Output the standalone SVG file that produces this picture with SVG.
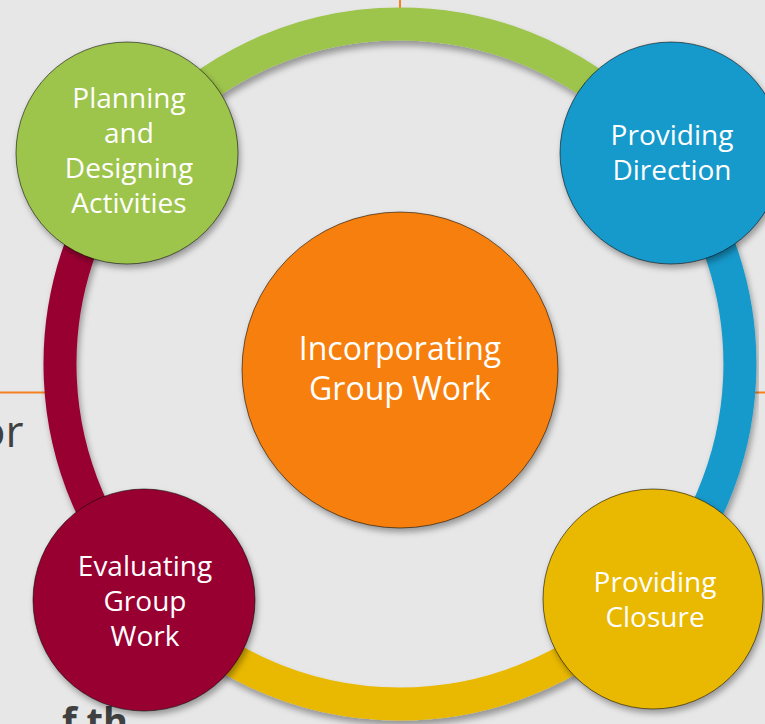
<svg xmlns="http://www.w3.org/2000/svg" width="765" height="724" viewBox="0 0 765 724">
  <defs>
    <filter id="shadow" x="-20%" y="-20%" width="140%" height="140%">
      <feDropShadow dx="2" dy="4" stdDeviation="3" flood-color="#000" flood-opacity="0.35"/>
    </filter>
    <filter id="arcShadow" x="-20%" y="-20%" width="140%" height="140%">
      <feDropShadow dx="2" dy="5" stdDeviation="3" flood-color="#000" flood-opacity="0.35"/>
    </filter>
  </defs>
  <style>
    .arc { fill: none; stroke-width: 33; filter: url(#arcShadow); }
    .node { stroke: #000; stroke-opacity: 0.55; stroke-width: 1; filter: url(#shadow); }
    .label { font-family: "Open Sans", "Liberation Sans", sans-serif; fill: #fff; text-anchor: middle; }
    .bg-text { font-family: "Open Sans", "Liberation Sans", sans-serif; fill: #404040; }
    .rule { stroke: #f58220; stroke-width: 2; }
  </style>

  <!-- slide background -->
  <rect width="765" height="724" fill="#e7e7e7"/>
  <line class="rule" x1="400" y1="0" x2="400" y2="10"/>
  <line class="rule" x1="0" y1="392.5" x2="50" y2="392.5"/>
  <line class="rule" x1="750" y1="392.5" x2="765" y2="392.5"/>
  <text class="bg-text" x="-21" y="447" font-size="44">or</text>
  <text class="bg-text" x="62" y="735" font-size="38" font-weight="bold">f th</text>

  <!-- cycle ring segments -->
  <g id="connectors">
    <path class="arc" stroke="#9dc44c" d="M131,156 A340,340 0 0 1 668.2,155.2"/>
    <path class="arc" stroke="#1699cb" d="M668.2,155.2 A340,340 0 0 1 649.1,595.4"/>
    <path class="arc" stroke="#e9b800" d="M649.1,595.4 A340,340 0 0 1 150,594.4"/>
    <path class="arc" stroke="#990033" d="M150,594.4 A340,340 0 0 1 131,156"/>
  </g>

  <g id="center">
    <circle class="node" cx="400" cy="370" r="158" fill="#f77f0a"/>
    <text class="label" font-size="32"><tspan x="400" y="360">Incorporating</tspan><tspan x="400" y="400">Group Work</tspan></text>
  </g>

  <g id="planning">
    <circle class="node" cx="127" cy="153" r="111" fill="#9dc44c"/>
    <text class="label" font-size="28"><tspan x="129" y="108">Planning</tspan><tspan x="129" y="143">and</tspan><tspan x="129" y="178">Designing</tspan><tspan x="129" y="213">Activities</tspan></text>
  </g>

  <g id="direction">
    <circle class="node" cx="671" cy="153" r="111" fill="#1699cb"/>
    <text class="label" font-size="28"><tspan x="672" y="145">Providing</tspan><tspan x="672" y="180">Direction</tspan></text>
  </g>

  <g id="closure">
    <circle class="node" cx="653" cy="599" r="110" fill="#e9b800"/>
    <text class="label" font-size="28"><tspan x="655" y="592">Providing</tspan><tspan x="655" y="627">Closure</tspan></text>
  </g>

  <g id="evaluating">
    <circle class="node" cx="144" cy="600" r="111" fill="#990033"/>
    <text class="label" font-size="28"><tspan x="145" y="576">Evaluating</tspan><tspan x="145" y="611">Group</tspan><tspan x="145" y="646">Work</tspan></text>
  </g>
</svg>
